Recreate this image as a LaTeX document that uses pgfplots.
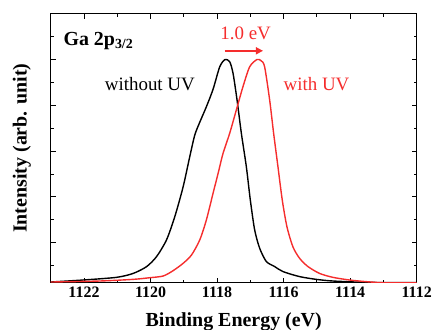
\documentclass[border=0pt]{standalone}
\usepackage{pgfplots}
\pgfplotsset{compat=1.18}
\usepackage{fontspec}
\setmainfont{Liberation Serif}
\usetikzlibrary{arrows.meta}
\definecolor{myred}{RGB}{245,45,45}
\newcommand{\tl}[1]{{\fontsize{16}{16}\selectfont\bfseries #1}}
\begin{document}
\begin{tikzpicture}
\useasboundingbox (-50.7bp,-47.3bp) rectangle (384.3bp,282.7bp);
\begin{axis}[
  at={(0,0)}, anchor=south west,
  scale only axis, width=366bp, height=269bp,
  x dir=reverse,
  xmin=1112, xmax=1123, ymin=0.127, ymax=6.0,
  xtick={1112,1114,1116,1118,1120,1122}, minor x tick num=1,
  xticklabels={\tl{1112},\tl{1114},\tl{1116},\tl{1118},\tl{1120},\tl{1122}},
  ytick={0,1,...,6}, minor y tick num=1, yticklabels={},
  tick align=inside, major tick length=5bp, minor tick length=3bp,
  every tick/.style={black, line width=0.9bp},
  axis line style={line width=1.1bp},
  xticklabel style={yshift=-1bp},
  xlabel={Binding Energy (eV)},
  ylabel={Intensity (arb. unit)},
  label style={font=\fontsize{20}{20}\selectfont\bfseries},
  xlabel style={at={(axis description cs:0.5,-0.1636)}, anchor=base, inner sep=0pt},
  ylabel style={at={(axis description cs:-0.079,0.5)}, anchor=center, rotate=0, inner sep=0pt},
]
\addplot[black, line width=1.4bp, smooth, tension=0.45] coordinates {
(1123,0.142) (1122.02,0.186) (1121.02,0.244) (1120.52,0.33) (1120.12,0.477)
(1119.82,0.695) (1119.52,1.06) (1119.27,1.57) (1119.02,2.22) (1118.82,2.88)
(1118.67,3.35) (1118.52,3.63) (1118.32,3.97) (1118.12,4.35) (1117.92,4.84)
(1117.76,5.0) (1117.62,4.95) (1117.52,4.70) (1117.40,4.12) (1117.27,3.39)
(1117.12,2.66) (1117.0,1.93) (1116.87,1.28) (1116.72,0.88) (1116.52,0.59)
(1116.27,0.48) (1116.02,0.37) (1115.52,0.26) (1115.02,0.20) (1114.52,0.164)
(1113.52,0.135) (1112,0.127)
};
\addplot[myred, line width=1.4bp, smooth, tension=0.45] coordinates {
(1123,0.142) (1121.52,0.164) (1120.52,0.20) (1120.02,0.236) (1119.62,0.273)
(1119.32,0.39) (1119.02,0.55) (1118.77,0.73) (1118.52,1.06) (1118.32,1.50)
(1118.12,2.08) (1117.97,2.51) (1117.82,2.95) (1117.62,3.39) (1117.42,3.90)
(1117.22,4.41) (1117.02,4.84) (1116.8,5.0) (1116.67,4.97) (1116.57,4.84)
(1116.42,4.12) (1116.30,3.39) (1116.17,2.66) (1116.04,1.93) (1115.9,1.35)
(1115.72,0.91) (1115.52,0.66) (1115.27,0.48) (1114.92,0.33) (1114.52,0.244)
(1114.02,0.186) (1113.52,0.15) (1113.02,0.127) (1112,0.127)
};
\node[anchor=base west, inner sep=0pt, font=\fontsize{20}{20}\selectfont\bfseries] at (axis cs:1122.62,5.30) {Ga 2p\textsubscript{3/2}};
\node[anchor=base, inner sep=0pt, font=\fontsize{19}{19}\selectfont] at (axis cs:1120.02,4.33) {without UV};
\node[anchor=base, inner sep=0pt, font=\fontsize{19}{19}\selectfont, text=myred] at (axis cs:1115.01,4.33) {with UV};
\node[anchor=base, inner sep=0pt, font=\fontsize{19}{19}\selectfont, text=myred] at (axis cs:1117.14,5.43) {1.0 eV};
\draw[myred, line width=1.5bp, -{Triangle[length=7bp,width=7bp]}] (axis cs:1117.77,5.19) -- (axis cs:1116.62,5.19);
\end{axis}
\end{tikzpicture}
\end{document}
